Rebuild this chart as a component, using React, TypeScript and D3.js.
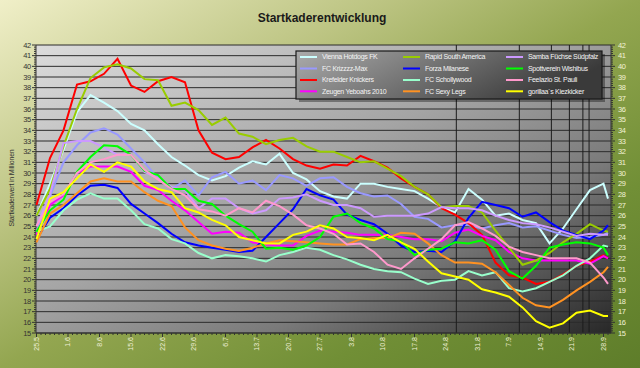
import React, { useEffect, useRef } from 'react'
import * as d3 from 'd3'

// first day of the season data, every other point is "days after"
const firstDay = new Date(2010, 4, 25)

const dayOffsets = [0, 3, 6, 9, 12, 15, 18, 21, 24, 27, 30, 33, 36, 39, 42, 45, 48, 51, 54, 57, 60, 63,
    66, 69, 72, 75, 78, 81, 84, 87, 90, 93, 96, 99, 102, 105, 108, 111, 114, 117, 120, 123, 126, 127]

const teams = ['Vienna Hotdogs FK', 'FC Krizzzz-Max', 'Krefelder Knickers', 'Zeugen Yeboahs 2010',
    'Rapid South America', 'Forza Milanese', 'FC Schollywood', 'FC Sexy Legs',
    'Samba Füchse Südpfalz', 'Spottverein Wishibus', 'Feelazio St. Pauli', 'gorillaa´s Kiezkicker']

const teamColors = ['#ccffff', '#9999ff', '#ff0000', '#ff00ff', '#99cc00', '#0000ff', '#99ffcc', '#ff9222',
    '#cc99ff', '#00ff00', '#ff99cc', '#ffff00']

const viennaHotdogs = [26.0, 29.0, 32.2, 35.7, 37.3, 36.6, 35.8, 34.6, 34.0, 32.7, 31.5, 30.7, 29.8, 29.3, 29.7, 30.5, 31.1, 30.8, 31.8, 30.0, 29.4, 28.3,
    27.8, 27.6, 29.0, 29.0, 28.7, 28.5, 28.3, 27.6, 26.8, 26.3, 28.5, 27.5, 26.0, 26.2, 25.6, 25.3, 23.4, 24.8, 26.6, 28.4, 29.0, 27.6]
const krizzzzMax = [24.5, 27.8, 31.0, 32.6, 33.8, 34.2, 33.6, 32.3, 31.0, 29.5, 28.5, 29.3, 27.9, 29.6, 30.1, 29.0, 29.3, 28.4, 29.8, 29.5, 28.8, 29.5,
    29.6, 28.7, 28.1, 27.8, 27.9, 27.1, 25.9, 25.7, 24.9, 25.1, 25.1, 24.8, 25.1, 25.3, 24.9, 25.0, 24.6, 24.2, 23.9, 24.0, 24.2, 24.4]
const krefelderKnickers = [27.0, 31.4, 34.0, 38.3, 38.6, 39.3, 40.7, 38.2, 37.6, 38.6, 39.0, 38.5, 34.0, 31.9, 31.3, 31.5, 32.4, 33.1, 32.3, 31.3, 30.7, 30.4,
    30.8, 30.7, 31.6, 31.1, 30.5, 29.5, 28.7, 28.0, 26.7, 26.1, 25.3, 24.2, 21.6, 20.4, 20.2, 19.6, 19.8, 20.5, 21.3, 21.7, 22.3, 22.0]
const zeugenYeboahs = [24.2, 27.0, 27.9, 30.0, 30.6, 30.6, 30.6, 30.1, 28.8, 28.4, 27.4, 26.5, 25.4, 24.3, 24.5, 24.4, 23.5, 23.3, 23.2, 23.2, 24.1, 24.6,
    24.5, 24.4, 24.2, 24.2, 24.2, 24.0, 23.8, 23.8, 23.6, 24.4, 24.7, 24.1, 23.7, 22.6, 22.0, 21.8, 21.8, 21.8, 21.8, 21.5, 22.2, 22.0]
const rapidSouthAmerica = [26.0, 28.5, 32.5, 36.0, 38.9, 39.9, 40.2, 39.8, 38.8, 38.7, 36.3, 36.6, 35.9, 34.5, 35.2, 33.7, 33.4, 32.7, 33.1, 33.3, 32.5, 32.0,
    32.0, 31.5, 31.0, 31.1, 30.4, 29.7, 28.7, 28.0, 26.8, 26.9, 26.9, 26.3, 24.6, 23.0, 21.4, 21.8, 22.5, 23.5, 24.3, 25.2, 24.6, 24.5]
const forzaMilanese = [23.8, 25.8, 26.7, 27.9, 28.8, 28.9, 28.6, 27.1, 26.2, 25.3, 24.3, 23.5, 23.2, 23.0, 22.8, 22.6, 22.7, 24.0, 25.3, 26.6, 28.5, 27.9,
    27.5, 26.1, 25.6, 25.2, 24.3, 23.2, 22.6, 22.7, 22.6, 23.6, 25.8, 27.3, 27.0, 26.7, 25.9, 26.3, 25.4, 24.6, 24.2, 23.8, 24.6, 25.1]
const schollywood = [24.5, 25.0, 26.5, 27.5, 28.1, 27.6, 27.6, 26.5, 25.2, 24.8, 23.8, 23.4, 22.5, 22.0, 22.3, 22.2, 22.0, 21.7, 22.3, 22.6, 23.0, 22.8,
    22.3, 21.9, 21.4, 21.0, 20.8, 20.7, 20.1, 19.6, 19.9, 20.0, 20.8, 20.4, 20.7, 19.2, 18.9, 19.2, 19.8, 20.4, 21.3, 22.0, 23.2, 23.1]
const sexyLegs = [23.5, 26.2, 27.0, 28.1, 29.2, 29.5, 29.2, 29.2, 28.2, 27.4, 26.9, 24.9, 23.7, 23.2, 22.9, 22.7, 23.0, 23.4, 23.7, 23.6, 23.5, 23.4,
    23.3, 23.3, 23.8, 23.9, 23.9, 24.4, 24.3, 23.4, 22.3, 21.6, 21.6, 21.5, 20.7, 19.5, 18.3, 17.6, 17.4, 18.1, 19.0, 19.8, 20.7, 21.2]
const sambaFuechse = [25.0, 28.0, 32.8, 33.0, 33.0, 32.4, 31.7, 31.8, 30.1, 29.5, 28.7, 28.4, 26.7, 27.6, 27.6, 26.7, 26.2, 26.5, 27.6, 27.7, 28.0, 27.4,
    27.0, 27.0, 26.7, 25.9, 26.0, 26.0, 26.0, 26.2, 26.8, 26.7, 26.7, 26.5, 26.0, 25.6, 25.3, 25.2, 24.9, 24.5, 24.1, 24.3, 24.2, 24.2]
const spottverein = [24.5, 26.5, 27.5, 30.1, 31.5, 32.6, 32.5, 31.7, 30.2, 29.8, 28.5, 28.5, 27.4, 27.1, 26.0, 25.2, 24.5, 22.9, 23.0, 22.8, 23.2, 24.0,
    25.9, 26.2, 25.3, 24.8, 23.8, 23.6, 22.3, 22.8, 22.9, 23.5, 23.4, 23.7, 22.8, 20.8, 20.1, 21.3, 23.0, 23.3, 23.5, 23.4, 23.0, 22.3]
const feelazio = [25.0, 27.3, 28.0, 30.0, 31.0, 31.3, 31.7, 31.7, 30.3, 29.4, 28.5, 27.9, 26.6, 26.4, 26.0, 26.7, 26.3, 27.4, 26.9, 26.1, 25.1, 24.8,
    24.3, 23.3, 23.4, 22.6, 21.4, 21.0, 22.0, 22.9, 23.8, 25.1, 25.4, 24.8, 24.1, 23.1, 22.6, 22.3, 22.0, 22.0, 22.0, 21.6, 20.2, 19.6]
const gorillaa = [23.8, 27.6, 28.2, 29.5, 30.8, 30.1, 31.0, 30.6, 29.2, 28.5, 28.2, 26.7, 26.3, 25.6, 25.1, 24.0, 23.7, 23.4, 23.4, 24.2, 24.5, 25.1,
    24.8, 24.0, 23.9, 23.7, 24.2, 23.5, 22.9, 21.7, 20.6, 20.3, 20.0, 19.1, 18.8, 18.4, 17.4, 16.1, 15.5, 15.9, 16.9, 17.1, 16.6, 16.6]

const seriesValues = [viennaHotdogs, krizzzzMax, krefelderKnickers, zeugenYeboahs, rapidSouthAmerica, forzaMilanese,
    schollywood, sexyLegs, sambaFuechse, spottverein, feelazio, gorillaa]

const dateLabels = ['25.5', '1.6', '8.6', '15.6', '22.6', '29.6', '6.7', '13.7', '20.7', '27.7', '3.8', '10.8',
    '17.8', '24.8', '31.8', '7.9', '14.9', '21.9', '28.9']

// dark vertical marker lines late in the season (days after first day)
const markerDays = [93.3, 107.3, 114.4, 118.4, 121.4, 122.8]

const yTicks = d3.range(15, 43)

const font = '"Liberation Sans", Arial, sans-serif'

const dayToDate = (d: number) => d3.timeHour.offset(firstDay, Math.round(d * 24))
const labelToDate = (s: string) => {
    const [d, m] = s.split('.').map(Number)
    return new Date(2010, m - 1, d)
}

export default function App() {
    const ref = useRef<SVGSVGElement>(null)

    useEffect(() => {
        const svg = d3.select(ref.current)
        svg.selectAll('*').remove()

        const left = 36, right = 611, top = 45, bottom = 333

        const x = d3.scaleTime().domain([firstDay, dayToDate(127)]).range([36.5, 608])
        const y = d3.scaleLinear().domain([15, 42]).range([bottom, top])

        const defs = svg.append('defs')
        const grad = (id: string, x2: number, y2: number, stops: [number, string][]) => {
            const g = defs.append('linearGradient').attr('id', id)
                .attr('x1', 0).attr('y1', 0).attr('x2', x2).attr('y2', y2)
            stops.forEach(s => g.append('stop').attr('offset', s[0]).attr('stop-color', s[1]))
        }
        grad('bg', 1, 1, [[0, '#f0efc8'], [0.3, '#bcc482'], [0.5, '#93a650'], [0.75, '#718f36'], [1, '#5e7d2a']])
        grad('plotbg', 1, 1, [[0, '#dcdcdc'], [0.45, '#a4a4a4'], [0.7, '#7a7a7a'], [1, '#282828']])
        grad('legendbg', 1, 0.3, [[0, '#ababab'], [1, '#3a3a3a']])

        svg.append('rect').attr('width', 640).attr('height', 368).attr('fill', 'url(#bg)')
        svg.append('rect')
            .attr('x', left).attr('y', top)
            .attr('width', right - left).attr('height', bottom - top)
            .attr('fill', 'url(#plotbg)')

        // horizontal grid
        svg.append('g').selectAll('line')
            .data(yTicks)
            .enter()
            .append('line')
            .attr('x1', left).attr('x2', right)
            .attr('y1', d => y(d)).attr('y2', d => y(d))
            .attr('stroke', '#2b2b2b')
            .attr('stroke-width', 1)

        svg.append('g').selectAll('line')
            .data(markerDays)
            .enter()
            .append('line')
            .attr('x1', d => x(dayToDate(d))).attr('x2', d => x(dayToDate(d)))
            .attr('y1', top).attr('y2', bottom)
            .attr('stroke', '#1c1c1c')
            .attr('stroke-width', 1)

        // axes
        const axes = svg.append('g').attr('stroke', '#333').attr('stroke-width', 1)
        axes.append('line').attr('x1', left).attr('x2', left).attr('y1', top).attr('y2', bottom)
        axes.append('line').attr('x1', right).attr('x2', right).attr('y1', top).attr('y2', bottom)
        axes.append('line').attr('x1', left).attr('x2', right).attr('y1', bottom).attr('y2', bottom)

        const minor = d3.range(15, 42.01, 0.2)
        minor.forEach(v => {
            const major = Math.abs(v - Math.round(v)) < 0.01
            const len = major ? 4 : 2
            axes.append('line').attr('x1', left - len).attr('x2', left).attr('y1', y(v)).attr('y2', y(v))
            axes.append('line').attr('x1', right).attr('x2', right + len).attr('y1', y(v)).attr('y2', y(v))
        })
        d3.range(0, 128).forEach(d => {
            const xx = x(dayToDate(d))
            axes.append('line').attr('x1', xx).attr('x2', xx).attr('y1', bottom).attr('y2', bottom + (d % 7 === 0 ? 4 : 2))
        })

        svg.append('g').selectAll('text')
            .data(yTicks)
            .enter()
            .append('text')
            .attr('x', left - 5)
            .attr('y', d => y(d))
            .attr('dy', '0.35em')
            .attr('text-anchor', 'end')
            .attr('font-family', font)
            .attr('font-size', 7.5)
            .attr('letter-spacing', -0.3)
            .attr('fill', '#333')
            .text(d => d)

        svg.append('g').selectAll('text')
            .data(yTicks)
            .enter()
            .append('text')
            .attr('x', right + 7)
            .attr('y', d => y(d))
            .attr('dy', '0.35em')
            .attr('font-family', font)
            .attr('font-size', 7.5)
            .attr('letter-spacing', -0.3)
            .attr('fill', '#f2f2d6')
            .text(d => d)

        svg.append('g').selectAll('text')
            .data(dateLabels)
            .enter()
            .append('text')
            .attr('transform', d => 'translate(' + x(labelToDate(d)) + ',' + (bottom + 4) + ') rotate(-90)')
            .attr('dy', '0.35em')
            .attr('text-anchor', 'end')
            .attr('font-family', font)
            .attr('font-size', 7)
            .attr('fill', '#f0f0d8')
            .text(d => d)

        svg.append('text')
            .attr('x', 322).attr('y', 22)
            .attr('text-anchor', 'middle')
            .attr('font-family', font)
            .attr('font-size', 12)
            .attr('font-weight', 'bold')
            .attr('fill', '#1a1a1a')
            .text('Startkaderentwicklung')

        svg.append('text')
            .attr('transform', 'translate(14,188) rotate(-90)')
            .attr('text-anchor', 'middle')
            .attr('font-family', font)
            .attr('font-size', 7)
            .attr('letter-spacing', -0.2)
            .attr('fill', '#333')
            .text('Startkaderwert in Millionen')

        // team lines
        const line = d3.line<number>()
            .x((_, i) => x(dayToDate(dayOffsets[i])))
            .y(v => y(v))

        svg.append('g').selectAll('path')
            .data(seriesValues)
            .enter()
            .append('path')
            .attr('d', d => line(d))
            .attr('fill', 'none')
            .attr('stroke', (_, i) => teamColors[i])
            .attr('stroke-width', 2)

        // legend
        const lg = svg.append('g')
        lg.append('rect').attr('x', 299).attr('y', 54).attr('width', 306).attr('height', 48)
            .attr('fill', 'rgba(0,0,0,0.35)')
        lg.append('rect').attr('x', 296).attr('y', 51).attr('width', 306).attr('height', 48)
            .attr('fill', 'url(#legendbg)')
            .attr('stroke', '#1a1a1a')
            .attr('stroke-width', 1.2)
        const colX = [300, 403, 506]
        const rowY = [57, 68.5, 80, 91.3]
        teams.forEach((t, i) => {
            const cx = colX[Math.floor(i / 4)]
            const cy = rowY[i % 4]
            lg.append('line').attr('x1', cx).attr('x2', cx + 17).attr('y1', cy).attr('y2', cy)
                .attr('stroke', teamColors[i]).attr('stroke-width', 2)
            lg.append('text').attr('x', cx + 22).attr('y', cy).attr('dy', '0.35em')
                .attr('font-family', font).attr('font-size', 7).attr('letter-spacing', -0.3)
                .attr('fill', '#f4f4f4')
                .text(t)
        })
    }, [])

    return (<svg ref={ref} width={640} height={368} style={{ position: 'absolute', left: 0, top: 0 }}></svg>)
}
